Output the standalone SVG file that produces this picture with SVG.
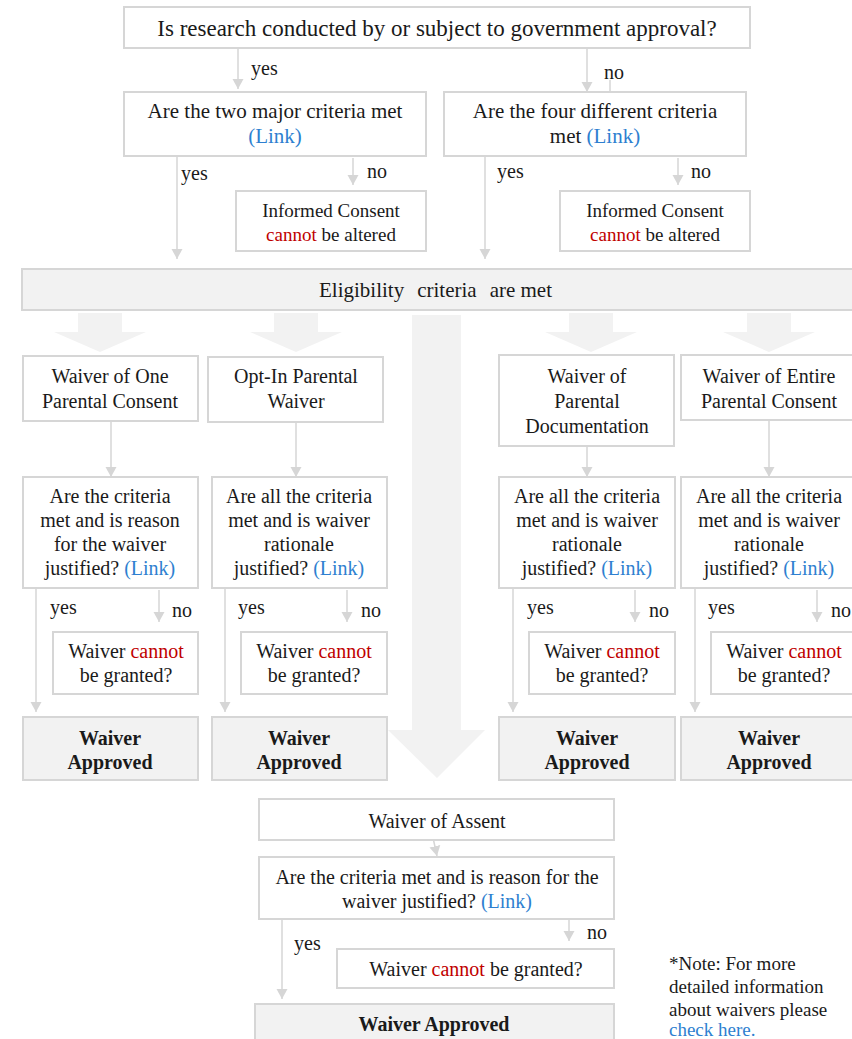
<svg xmlns="http://www.w3.org/2000/svg" width="852" height="1039" viewBox="0 0 852 1039">
<defs>
<style>
text{fill:#1a1a1a;text-anchor:middle}
.box{fill:#fff;stroke:#d6d6d6;stroke-width:2}
.grey{fill:#f2f2f2;stroke:#d6d6d6;stroke-width:2}
.blk{fill:#f2f2f2;stroke:none}
.c{stroke:#d6d6d6;stroke-width:1.5;fill:none;marker-end:url(#ah)}
.t20{font-size:20px}
.t21{font-size:21px}
.t19{font-size:19px}
.b{font-weight:bold}
.lbl{font-size:20px;text-anchor:start}
.link{fill:#2e7fd0}
.red{fill:#c00000}
</style>
<marker id="ah" viewBox="0 -6 10 12" refX="10" refY="0" markerWidth="10" markerHeight="12" markerUnits="userSpaceOnUse" orient="auto">
<path d="M0,-5.5 L10,0 L0,5.5 z" fill="#d6d6d6"/>
</marker>
</defs>
<rect width="852" height="1039" fill="#fff"/>

<g id="block-arrows">
<polygon class="blk" points="78,313 122,313 122,332 146,332 100,352 54,332 78,332"/>
<polygon class="blk" points="274,313 318,313 318,332 342,332 296,352 250,332 274,332"/>
<polygon class="blk" points="569,313 613,313 613,332 637,332 591,352 545,332 569,332"/>
<polygon class="blk" points="747,313 791,313 791,332 815,332 769,352 723,332 747,332"/>
<polygon class="blk" points="412,315 461,315 461,730 485,730 437,778 388,730 412,730"/>
</g>

<g id="connectors">
<line class="c" x1="238" y1="48" x2="238" y2="89"/>
<line class="c" x1="587" y1="48" x2="587" y2="92"/>
<line class="c" x1="610" y1="80" x2="610" y2="112"/>
<line class="c" x1="177" y1="156" x2="177" y2="259"/>
<line class="c" x1="353" y1="158" x2="353" y2="185"/>
<line class="c" x1="485" y1="156" x2="485" y2="259"/>
<line class="c" x1="678" y1="158" x2="678" y2="185"/>
<line class="c" x1="111" y1="421" x2="111" y2="477"/>
<line class="c" x1="296" y1="422" x2="296" y2="477"/>
<line class="c" x1="587" y1="446" x2="587" y2="477"/>
<line class="c" x1="769" y1="420" x2="769" y2="477"/>
<line class="c" x1="36" y1="588" x2="36" y2="712"/>
<line class="c" x1="225" y1="588" x2="225" y2="712"/>
<line class="c" x1="513" y1="588" x2="513" y2="712"/>
<line class="c" x1="695" y1="588" x2="695" y2="712"/>
<line class="c" x1="159" y1="590" x2="159" y2="622"/>
<line class="c" x1="347" y1="590" x2="347" y2="622"/>
<line class="c" x1="635" y1="590" x2="635" y2="622"/>
<line class="c" x1="817" y1="590" x2="817" y2="622"/>
<line class="c" x1="425" y1="801" x2="437" y2="856"/>
<line class="c" x1="569" y1="919" x2="569" y2="941"/>
<line class="c" x1="282" y1="920" x2="282" y2="999"/>
</g>

<g font-family="'Liberation Serif', Tinos, 'Times New Roman', 'DejaVu Serif', serif">
<g id="labels">
<text class="lbl" x="251" y="75">yes</text>
<text class="lbl" x="604" y="79">no</text>
<text class="lbl" x="181" y="180">yes</text>
<text class="lbl" x="367" y="178">no</text>
<text class="lbl" x="497" y="178">yes</text>
<text class="lbl" x="691" y="178">no</text>
<text class="lbl" x="50" y="614">yes</text>
<text class="lbl" x="172" y="617">no</text>
<text class="lbl" x="238" y="614">yes</text>
<text class="lbl" x="361" y="617">no</text>
<text class="lbl" x="527" y="614">yes</text>
<text class="lbl" x="649" y="617">no</text>
<text class="lbl" x="708" y="614">yes</text>
<text class="lbl" x="831" y="617">no</text>
<text class="lbl" x="587" y="939">no</text>
<text class="lbl" x="294" y="950">yes</text>
</g>

<g id="n-top">
<rect class="box" x="124" y="7" width="626" height="41"/>
<text style="font-size:23px" x="437" y="36">Is research conducted by or subject to government approval?</text>
</g>

<g id="n-two">
<rect class="box" x="124" y="92" width="302" height="64"/>
<text class="t21" x="275" y="118">Are the two major criteria met</text>
<text class="t21 link" x="275" y="143">(Link)</text>
</g>

<g id="n-four">
<rect class="box" x="444" y="92" width="302" height="64"/>
<text class="t21" x="595" y="118">Are the four different criteria</text>
<text class="t21" x="595" y="143">met <tspan class="link">(Link)</tspan></text>
</g>

<g id="n-ic1">
<rect class="box" x="236" y="191" width="190" height="60"/>
<text class="t19" x="331" y="217">Informed Consent</text>
<text class="t19" x="331" y="241"><tspan class="red">cannot</tspan> be altered</text>
</g>

<g id="n-ic2">
<rect class="box" x="560" y="191" width="190" height="60"/>
<text class="t19" x="655" y="217">Informed Consent</text>
<text class="t19" x="655" y="241"><tspan class="red">cannot</tspan> be altered</text>
</g>

<g id="n-elig">
<rect class="grey" x="22" y="269" width="840" height="41"/>
<text class="t21" x="319" y="297" style="text-anchor:start">Eligibility<tspan dx="13">criteria</tspan><tspan dx="13">are met</tspan></text>
</g>

<g id="n-one">
<rect class="box" x="23" y="356" width="175" height="65"/>
<text class="t20" x="110" y="383">Waiver of One</text>
<text class="t20" x="110" y="408">Parental Consent</text>
</g>

<g id="n-optin">
<rect class="box" x="208" y="357" width="175" height="65"/>
<text class="t20" x="296" y="383">Opt-In Parental</text>
<text class="t20" x="296" y="408">Waiver</text>
</g>

<g id="n-doc">
<rect class="box" x="499" y="355" width="175" height="91"/>
<text class="t20" x="587" y="383">Waiver of</text>
<text class="t20" x="587" y="408">Parental</text>
<text class="t20" x="587" y="433">Documentation</text>
</g>

<g id="n-entire">
<rect class="box" x="681" y="355" width="180" height="65"/>
<text class="t20" x="769" y="383">Waiver of Entire</text>
<text class="t20" x="769" y="408">Parental Consent</text>
</g>

<g id="q-one">
<rect class="box" x="23" y="477" width="175" height="111"/>
<text class="t20" x="110" y="503">Are the criteria</text>
<text class="t20" x="110" y="527">met and is reason</text>
<text class="t20" x="110" y="551">for the waiver</text>
<text class="t20" x="110" y="575">justified? <tspan class="link">(Link)</tspan></text>
</g>

<g id="q-optin">
<rect class="box" x="212" y="477" width="175" height="111"/>
<text class="t20" x="299" y="503">Are all the criteria</text>
<text class="t20" x="299" y="527">met and is waiver</text>
<text class="t20" x="299" y="551">rationale</text>
<text class="t20" x="299" y="575">justified? <tspan class="link">(Link)</tspan></text>
</g>

<g id="q-doc">
<rect class="box" x="499" y="477" width="176" height="111"/>
<text class="t20" x="587" y="503">Are all the criteria</text>
<text class="t20" x="587" y="527">met and is waiver</text>
<text class="t20" x="587" y="551">rationale</text>
<text class="t20" x="587" y="575">justified? <tspan class="link">(Link)</tspan></text>
</g>

<g id="q-entire">
<rect class="box" x="681" y="477" width="180" height="111"/>
<text class="t20" x="769" y="503">Are all the criteria</text>
<text class="t20" x="769" y="527">met and is waiver</text>
<text class="t20" x="769" y="551">rationale</text>
<text class="t20" x="769" y="575">justified? <tspan class="link">(Link)</tspan></text>
</g>

<g id="x-one">
<rect class="box" x="53" y="632" width="145" height="62"/>
<text class="t20" x="126" y="658">Waiver <tspan class="red">cannot</tspan></text>
<text class="t20" x="126" y="682">be granted?</text>
</g>
<g id="x-optin">
<rect class="box" x="241" y="632" width="146" height="62"/>
<text class="t20" x="314" y="658">Waiver <tspan class="red">cannot</tspan></text>
<text class="t20" x="314" y="682">be granted?</text>
</g>
<g id="x-doc">
<rect class="box" x="529" y="632" width="146" height="62"/>
<text class="t20" x="602" y="658">Waiver <tspan class="red">cannot</tspan></text>
<text class="t20" x="602" y="682">be granted?</text>
</g>
<g id="x-entire">
<rect class="box" x="711" y="632" width="150" height="62"/>
<text class="t20" x="784" y="658">Waiver <tspan class="red">cannot</tspan></text>
<text class="t20" x="784" y="682">be granted?</text>
</g>

<g id="a-one">
<rect class="grey" x="23" y="717" width="175" height="63"/>
<text class="t20 b" x="110" y="745">Waiver</text>
<text class="t20 b" x="110" y="769">Approved</text>
</g>
<g id="a-optin">
<rect class="grey" x="212" y="717" width="175" height="63"/>
<text class="t20 b" x="299" y="745">Waiver</text>
<text class="t20 b" x="299" y="769">Approved</text>
</g>
<g id="a-doc">
<rect class="grey" x="499" y="717" width="176" height="63"/>
<text class="t20 b" x="587" y="745">Waiver</text>
<text class="t20 b" x="587" y="769">Approved</text>
</g>
<g id="a-entire">
<rect class="grey" x="681" y="717" width="180" height="63"/>
<text class="t20 b" x="769" y="745">Waiver</text>
<text class="t20 b" x="769" y="769">Approved</text>
</g>

<g id="n-assent">
<rect class="box" x="259" y="799" width="355" height="41"/>
<text class="t20" x="437" y="828">Waiver of Assent</text>
</g>
<g id="q-assent">
<rect class="box" x="259" y="857" width="355" height="62"/>
<text class="t20" x="437" y="884">Are the criteria met and is reason for the</text>
<text class="t20" x="437" y="908">waiver justified? <tspan class="link">(Link)</tspan></text>
</g>
<g id="x-assent">
<rect class="box" x="337" y="949" width="277" height="39"/>
<text class="t20" x="476" y="976">Waiver <tspan class="red">cannot</tspan> be granted?</text>
</g>
<g id="a-assent">
<rect class="grey" x="255" y="1004" width="359" height="45"/>
<text class="t20 b" x="434" y="1031">Waiver Approved</text>
</g>

<g id="note">
<text class="t19" style="text-anchor:start" x="669" y="970">*Note: For more</text>
<text class="t19" style="text-anchor:start" x="669" y="993">detailed information</text>
<text class="t19" style="text-anchor:start" x="669" y="1016">about waivers please</text>
<text class="t19 link" style="text-anchor:start" x="669" y="1036">check here.</text>
</g>
</g>
</svg>
